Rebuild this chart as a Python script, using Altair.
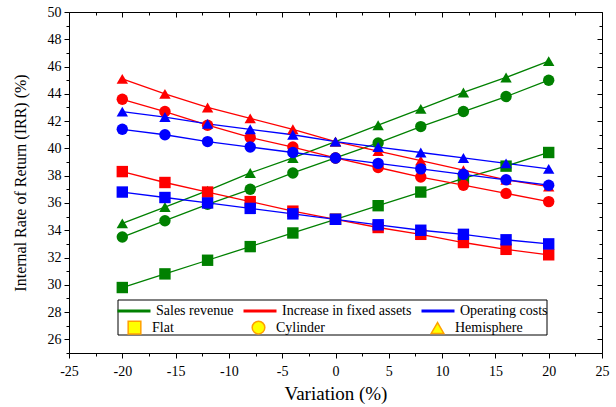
import altair as alt
import pandas as pd

variation = [-20, -16, -12, -8, -4, 0, 4, 8, 12, 16, 20]
series_names = ["Sales revenue", "Increase in fixed assets", "Operating costs"]
shape_names = ["Flat", "Cylinder", "Hemisphere"]

sales_flat = [29.8, 30.8, 31.8, 32.8, 33.8, 34.8, 35.8, 36.8, 37.8, 38.7, 39.7]
sales_cyl = [33.5, 34.7, 35.9, 37.0, 38.2, 39.3, 40.4, 41.6, 42.7, 43.8, 45.0]
sales_hemi = [34.5, 35.7, 36.9, 38.2, 39.3, 40.5, 41.7, 42.9, 44.1, 45.2, 46.4]

fixed_flat = [38.3, 37.5, 36.8, 36.1, 35.4, 34.8, 34.2, 33.7, 33.1, 32.6, 32.2]
fixed_cyl = [43.6, 42.7, 41.7, 40.8, 40.1, 39.3, 38.6, 37.9, 37.3, 36.7, 36.1]
fixed_hemi = [45.1, 44.0, 43.0, 42.2, 41.4, 40.5, 39.8, 39.1, 38.4, 37.7, 37.2]

op_flat = [36.8, 36.4, 36.0, 35.6, 35.2, 34.8, 34.4, 34.0, 33.7, 33.3, 33.0]
op_cyl = [41.4, 41.0, 40.5, 40.1, 39.7, 39.3, 38.9, 38.5, 38.1, 37.7, 37.3]
op_hemi = [42.7, 42.3, 41.8, 41.4, 41.0, 40.5, 40.1, 39.7, 39.3, 38.9, 38.5]

groups = [
    [sales_flat, sales_cyl, sales_hemi],
    [fixed_flat, fixed_cyl, fixed_hemi],
    [op_flat, op_cyl, op_hemi],
]
rows = []
for s, sets in zip(series_names, groups):
    for sh, vals in zip(shape_names, sets):
        for v, y in zip(variation, vals):
            rows.append({"variation": v, "irr": y, "series": s, "shape": sh, "key": s + "|" + sh})
df = pd.DataFrame(rows)

W, H = 533, 341
FONT = "Liberation Serif"
x_ticks = [-25 + 2.5 * i for i in range(21)]
y_ticks = list(range(25, 51))

x_scale = alt.Scale(domain=[-25, 25], nice=False, zero=False)
y_scale = alt.Scale(domain=[25, 50], nice=False, zero=False)

common = dict(domain=False, grid=False, tickColor="black", tickWidth=1,
              labelFontSize=14, labelColor="black",
              titleColor="black", titleFontWeight="normal")

x_tick_size = {"condition": {"test": "datum.value % 5 !== 0", "value": 3}, "value": 5}
y_tick_size = {"condition": {"test": "datum.value % 2 !== 0", "value": 3}, "value": 5}

x_axis = alt.Axis(values=x_ticks, labelExpr="datum.value % 5 === 0 ? '' + datum.value : ''",
                  tickSize=x_tick_size, title="Variation (%)", titleFontSize=19,
                  labelPadding=6, titlePadding=6, labelFlush=False, labelOverlap=False, **common)
y_axis = alt.Axis(values=y_ticks, labelExpr="datum.value % 2 === 0 ? '' + datum.value : ''",
                  tickSize=y_tick_size, title="Internal Rate of Return (IRR) (%)", titleFontSize=16,
                  labelPadding=3, titlePadding=19, labelFlush=False, labelOverlap=False, **common)

x_mirror = alt.Axis(values=x_ticks, orient="bottom", offset=-H, labels=False, title=None,
                    tickSize=x_tick_size, **common)
y_mirror = alt.Axis(values=y_ticks, orient="left", offset=-W, labels=False, title=None,
                    tickSize=y_tick_size, **common)

color_scale = alt.Scale(domain=series_names, range=["#008000", "#ff0000", "#0000ff"])
shape_scale = alt.Scale(domain=shape_names, range=["square", "circle", "triangle-up"])

base = alt.Chart(df)

lines = base.mark_line(strokeWidth=1.3).encode(
    x=alt.X("variation:Q", scale=x_scale, axis=x_axis),
    y=alt.Y("irr:Q", scale=y_scale, axis=y_axis),
    color=alt.Color("series:N", scale=color_scale, legend=alt.Legend(
        title=None, orient="none", legendX=47, legendY=281, direction="horizontal",
        columns=3, symbolType="stroke", symbolSize=1089, symbolStrokeWidth=3,
        labelFontSize=14, labelColor="black", labelOffset=4,
        columnPadding=3, padding=0)),
    detail="key:N",
)

pad = "\u00a0" * 8 + "\u200b"
points = base.mark_point(filled=True, size=130, opacity=1).encode(
    x=alt.X("variation:Q", scale=x_scale, axis=x_mirror),
    y=alt.Y("irr:Q", scale=y_scale, axis=y_mirror),
    color=alt.Color("series:N", scale=color_scale, legend=None),
    shape=alt.Shape("shape:N", scale=shape_scale, legend=alt.Legend(
        title=None, orient="none", legendX=58, legendY=308, direction="horizontal",
        columns=3, symbolFillColor="#ffff00", symbolStrokeColor="#ffa000",
        symbolStrokeWidth=1.5, symbolSize=160, labelFontSize=14,
        labelColor="black", labelOffset=10, columnPadding=75, padding=0,
        labelExpr="datum.label == 'Cylinder' ? 'Cylinder" + pad + "' : datum.label")),
)

frame = alt.Chart(pd.DataFrame({"a": [0]})).mark_rect(
    fill="white", stroke="black", strokeWidth=1
).encode(x=alt.value(49), x2=alt.value(478), y=alt.value(288), y2=alt.value(323))

chart = alt.layer(lines, points, frame).resolve_axis(
    x="independent", y="independent"
).properties(
    width=W, height=H,
    autosize=alt.AutoSizeParams(type="none"),
    padding={"left": 69, "top": 12, "right": 14, "bottom": 54},
).configure(
    background="white", font=FONT
).configure_view(
    stroke="black", strokeWidth=1
).configure_axis(
    labelFont=FONT, titleFont=FONT
).configure_legend(
    labelFont=FONT, titleFont=FONT
)

chart.save("out.html", embed_options={"renderer": "svg", "actions": False})
